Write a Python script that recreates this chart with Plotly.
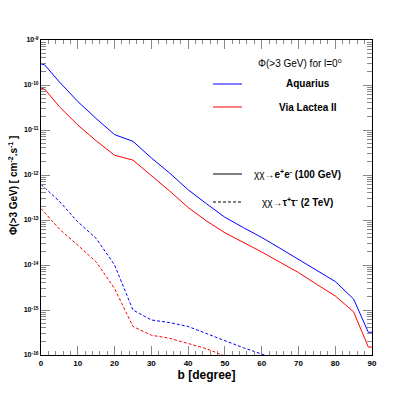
import plotly.graph_objects as go

# galactic latitude b [degree]
b_solid = [0, 1, 5, 10, 15, 20, 25, 30, 35, 40, 45, 50, 55, 60, 65, 70, 75, 80, 85, 89, 90]
b_dash = [0, 5, 10, 15, 20, 25, 30, 35, 40, 45, 50, 55, 60, 65]

# chi chi -> e+ e- (100 GeV), flux in cm^-2 s^-1
aq_ee = [2.95e-10, 2.8e-10, 1.17e-10, 4.3e-11, 1.8e-11, 7.9e-12, 5.6e-12, 2.4e-12, 1.1e-12,
         4.7e-13, 2.3e-13, 1.15e-13, 6.8e-14, 4.1e-14, 2.35e-14, 1.35e-14, 7.6e-15, 4.3e-15,
         1.75e-15, 3.2e-16, 3.2e-16]
vl_ee = [8.5e-11, 8.1e-11, 3.3e-11, 1.29e-11, 5.75e-12, 2.75e-12, 2.14e-12, 9.8e-13, 4.4e-13,
         1.9e-13, 9.5e-14, 5.2e-14, 3.2e-14, 1.95e-14, 1.15e-14, 6.8e-15, 3.7e-15, 2.05e-15,
         9.1e-16, 1.5e-16, 1.5e-16]

# chi chi -> tau+ tau- (2 TeV)
aq_tau = [6.2e-13, 2.6e-13, 9.1e-14, 3.9e-14, 1.0e-14, 1.0e-15, 6.0e-16, 5.25e-16, 4.3e-16,
          3.0e-16, 2.05e-16, 1.45e-16, 1.05e-16, 7.6e-17]
vl_tau = [1.8e-13, 6.3e-14, 2.75e-14, 1.17e-14, 3.0e-15, 4.3e-16, 2.75e-16, 2.35e-16, 1.8e-16,
          1.38e-16, 9.5e-17, 7.1e-17]

decades = [-16, -15, -14, -13, -12, -11, -10, -9]
x_ticks = [0, 10, 20, 30, 40, 50, 60, 70, 80, 90]

BLUE = "#0000ff"
RED = "#ff0000"
FONT = "Liberation Sans"

fig = go.Figure()
fig.add_trace(go.Scatter(x=b_solid, y=aq_ee, mode="lines", line=dict(color=BLUE, width=1)))
fig.add_trace(go.Scatter(x=b_solid, y=vl_ee, mode="lines", line=dict(color=RED, width=1)))
fig.add_trace(go.Scatter(x=b_dash, y=aq_tau, mode="lines",
                         line=dict(color=BLUE, width=1, dash="3px,2px")))
fig.add_trace(go.Scatter(x=b_dash[:len(vl_tau)], y=vl_tau, mode="lines",
                         line=dict(color=RED, width=1, dash="3px,2px")))

# ROOT-like legend, drawn by hand (pixel positions of the frame: 41..372 x 40..355)
def px_x(p):
    return (p - 41) / 331.0

def px_y(p):
    return (355 - p) / 315.0

legend_text = [
    ("Φ(>3 GeV) for l=0<sup>o</sup>", 300, 63),
    ("<b>Aquarius</b>", 308, 84),
    ("<b>Via Lactea II</b>", 308, 107),
    ("χχ→<b>e<sup>+</sup>e<sup>-</sup> (100 GeV)</b>", 297, 174),
    ("χχ→<b>τ<sup>+</sup>τ<sup>-</sup> (2 TeV)</b>", 297, 202),
]
for txt, x, y in legend_text:
    fig.add_annotation(x=px_x(x), y=px_y(y), xref="paper", yref="paper", showarrow=False,
                       xanchor="center", yanchor="middle", text=txt,
                       font=dict(family=FONT, size=10, color="black"))

samples = [(84, BLUE, "solid"), (107, RED, "solid"), (174, "black", "solid"), (202, "black", "3px,2px")]
for y, col, dash in samples:
    fig.add_shape(type="line", xref="paper", yref="paper", x0=px_x(213), x1=px_x(242),
                  y0=px_y(y), y1=px_y(y), line=dict(color=col, width=1, dash=dash))

fig.add_annotation(x=px_x(13), y=px_y(186), xref="paper", yref="paper", showarrow=False,
                   textangle=-90, xanchor="center", yanchor="middle",
                   text="<b>Φ(>3 GeV) [ cm<sup>-2</sup>.s<sup>-1</sup> ]</b>",
                   font=dict(family=FONT, size=10, color="black"))

# page body has an 8px margin, so the figure is shrunk and shifted by that amount
fig.update_layout(
    width=407, height=387,
    margin=dict(l=33, r=43, t=32, b=40, autoexpand=False),
    paper_bgcolor="white", plot_bgcolor="white",
    showlegend=False,
    xaxis=dict(range=[0, 90], tickvals=x_ticks, ticks="inside", ticklen=9, tickwidth=1,
               tickcolor="#888888", showgrid=False, zeroline=False, showline=True,
               linecolor="black", linewidth=1, mirror="ticks",
               tickfont=dict(family=FONT, size=8, color="black", weight="bold"),
               minor=dict(ticks="inside", ticklen=4, dtick=2, tickcolor="#888888", showgrid=False),
               title=dict(text="<b>b [degree]</b>", font=dict(family=FONT, size=12, color="black"),
                          standoff=4)),
    yaxis=dict(type="log", range=[-16, -9], tickvals=[10.0 ** d for d in decades],
               ticktext=["10<sup>%d</sup>" % d for d in decades],
               ticks="inside", ticklen=9, tickwidth=1, tickcolor="#888888",
               showgrid=False, zeroline=False, showline=True, linecolor="black", linewidth=1,
               mirror="ticks", tickfont=dict(family=FONT, size=7, color="black", weight="bold"),
               minor=dict(ticks="inside", ticklen=5, dtick="D1", tickcolor="#888888", showgrid=False)),
)

fig.write_html("out.html")
